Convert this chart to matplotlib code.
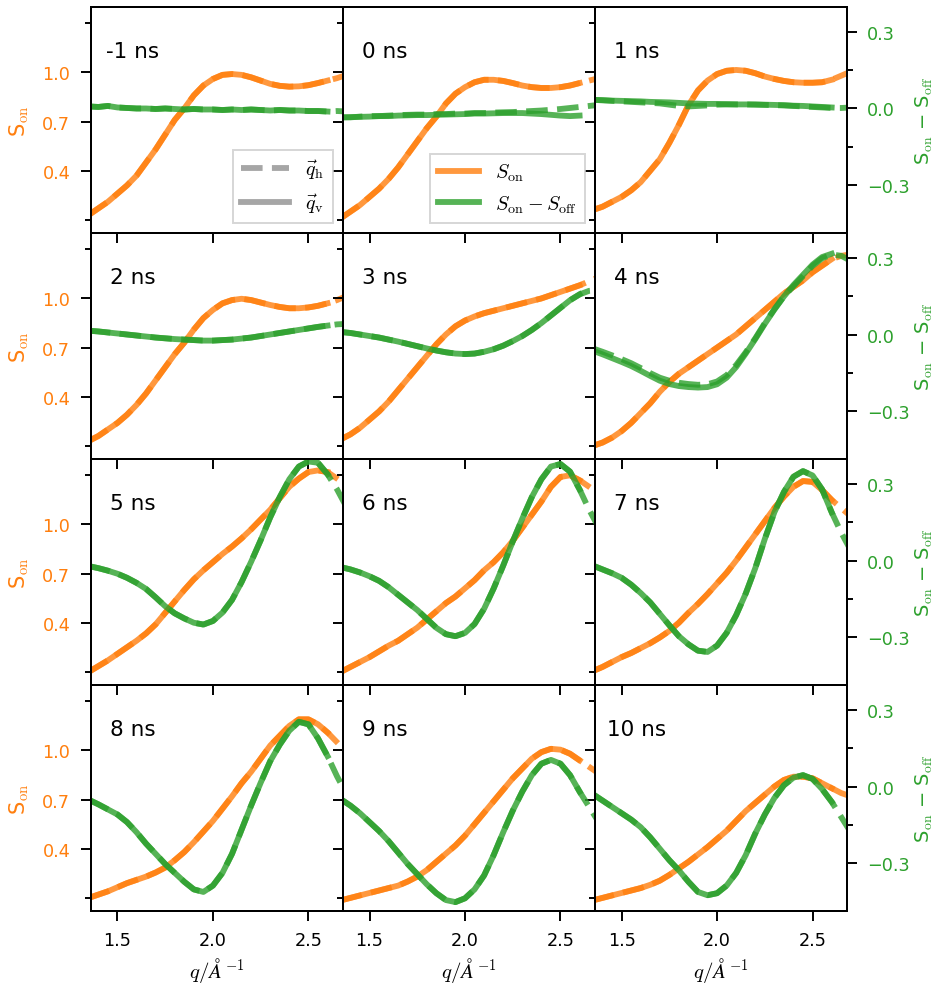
import matplotlib
matplotlib.use('Agg')
import matplotlib.pyplot as plt
from matplotlib.lines import Line2D

plt.rcParams['mathtext.fontset'] = 'cm'
plt.rcParams['font.family'] = ['DejaVu Sans']

# ---------------- data ----------------
q = [1.35, 1.40, 1.45, 1.50, 1.55, 1.60, 1.65, 1.70, 1.75, 1.80, 1.85, 1.90, 1.95, 2.00,
     2.05, 2.10, 2.15, 2.20, 2.25, 2.30, 2.35, 2.40, 2.45, 2.50, 2.55, 2.60, 2.65, 2.70]

times = [-1, 0, 1, 2, 3, 4, 5, 6, 7, 8, 9, 10]

# S_on (dashed, q_h)
s_m1 = [0.13, 0.17, 0.21, 0.26, 0.31, 0.37, 0.45, 0.53, 0.62, 0.71, 0.78, 0.86, 0.92, 0.96,
        0.985, 0.99, 0.985, 0.97, 0.95, 0.93, 0.918, 0.913, 0.915, 0.922, 0.935, 0.95, 0.965, 0.985]
s_0 = [0.11, 0.15, 0.19, 0.24, 0.29, 0.35, 0.42, 0.50, 0.58, 0.66, 0.73, 0.81, 0.87, 0.91,
       0.94, 0.955, 0.955, 0.948, 0.935, 0.92, 0.91, 0.905, 0.905, 0.91, 0.92, 0.935, 0.95, 0.965]
s_1 = [0.16, 0.18, 0.21, 0.24, 0.28, 0.33, 0.40, 0.47, 0.57, 0.68, 0.80, 0.89, 0.95, 0.99,
       1.01, 1.015, 1.01, 0.995, 0.975, 0.96, 0.948, 0.94, 0.937, 0.937, 0.94, 0.955, 0.98, 1.005]
s_2 = [0.13, 0.16, 0.20, 0.24, 0.29, 0.35, 0.42, 0.50, 0.58, 0.66, 0.73, 0.81, 0.88, 0.93,
       0.97, 0.99, 0.998, 0.99, 0.975, 0.96, 0.948, 0.94, 0.94, 0.945, 0.955, 0.97, 0.99, 1.015]
s_3 = [0.14, 0.17, 0.21, 0.26, 0.31, 0.37, 0.44, 0.51, 0.58, 0.65, 0.72, 0.78, 0.83, 0.865,
       0.89, 0.91, 0.925, 0.94, 0.955, 0.97, 0.985, 1.0, 1.02, 1.04, 1.06, 1.08, 1.105, 1.13]
s_4 = [0.10, 0.12, 0.15, 0.19, 0.24, 0.30, 0.36, 0.43, 0.49, 0.54, 0.58, 0.62, 0.66, 0.70,
       0.74, 0.78, 0.83, 0.88, 0.93, 0.98, 1.03, 1.07, 1.11, 1.16, 1.20, 1.24, 1.26, 1.27]
s_5 = [0.10, 0.135, 0.17, 0.21, 0.25, 0.29, 0.335, 0.39, 0.46, 0.53, 0.60, 0.665, 0.72, 0.77,
       0.82, 0.865, 0.915, 0.97, 1.03, 1.09, 1.16, 1.23, 1.28, 1.32, 1.33, 1.32, 1.28, 1.24]
s_6 = [0.10, 0.13, 0.16, 0.19, 0.225, 0.26, 0.29, 0.33, 0.37, 0.42, 0.47, 0.52, 0.56, 0.61,
       0.66, 0.72, 0.77, 0.83, 0.90, 0.98, 1.06, 1.14, 1.23, 1.29, 1.30, 1.27, 1.23, 1.19]
s_7 = [0.105, 0.13, 0.16, 0.19, 0.215, 0.245, 0.275, 0.31, 0.35, 0.40, 0.46, 0.515, 0.575, 0.64,
       0.705, 0.78, 0.86, 0.94, 1.02, 1.10, 1.17, 1.23, 1.265, 1.26, 1.21, 1.15, 1.10, 1.05]
s_8 = [0.10, 0.12, 0.14, 0.165, 0.19, 0.21, 0.23, 0.255, 0.285, 0.33, 0.38, 0.44, 0.505, 0.57,
       0.645, 0.72, 0.80, 0.87, 0.95, 1.03, 1.09, 1.15, 1.19, 1.19, 1.16, 1.11, 1.05, 0.99]
s_9 = [0.085, 0.10, 0.115, 0.13, 0.145, 0.16, 0.175, 0.20, 0.23, 0.27, 0.32, 0.37, 0.42, 0.48,
       0.55, 0.62, 0.69, 0.76, 0.83, 0.89, 0.95, 0.99, 1.01, 1.005, 0.98, 0.94, 0.90, 0.86]
s_10 = [0.085, 0.10, 0.115, 0.13, 0.145, 0.16, 0.18, 0.205, 0.24, 0.28, 0.32, 0.365, 0.41, 0.46,
        0.51, 0.57, 0.63, 0.68, 0.73, 0.78, 0.82, 0.84, 0.84, 0.83, 0.80, 0.77, 0.74, 0.72]

# S_on - S_off (dashed, q_h)
d_m1 = [0.008, 0.006, 0.01, 0.004, 0.002, 0.0, 0.0, -0.002, 0.0, -0.002, -0.004, -0.002, -0.004, -0.004,
        -0.006, -0.004, -0.006, -0.004, -0.006, -0.008, -0.006, -0.008, -0.008, -0.01, -0.01, -0.012, -0.01, -0.012]
d_0 = [-0.035, -0.035, -0.032, -0.03, -0.03, -0.028, -0.026, -0.025, -0.024, -0.024, -0.022, -0.022, -0.02, -0.02,
       -0.018, -0.018, -0.016, -0.015, -0.014, -0.012, -0.01, -0.008, -0.005, -0.002, 0.002, 0.006, 0.01, 0.014]
d_1 = [0.034, 0.032, 0.03, 0.028, 0.026, 0.024, 0.022, 0.02, 0.015, 0.01, 0.008, 0.01, 0.012, 0.015,
       0.016, 0.016, 0.016, 0.015, 0.014, 0.013, 0.012, 0.01, 0.008, 0.006, 0.004, 0.002, 0.002, 0.004]
d_2 = [0.015, 0.012, 0.008, 0.004, 0.0, -0.004, -0.008, -0.012, -0.015, -0.018, -0.02, -0.022, -0.024, -0.024,
       -0.022, -0.02, -0.016, -0.012, -0.006, 0.0, 0.006, 0.012, 0.018, 0.024, 0.03, 0.035, 0.04, 0.042]
d_3 = [0.01, 0.006, 0.0, -0.006, -0.012, -0.02, -0.028, -0.037, -0.046, -0.055, -0.063, -0.07, -0.075, -0.077,
       -0.075, -0.068, -0.058, -0.044, -0.026, -0.006, 0.018, 0.045, 0.075, 0.105, 0.135, 0.158, 0.172, 0.175]
d_4 = [-0.055, -0.068, -0.082, -0.097, -0.113, -0.132, -0.152, -0.17, -0.182, -0.19, -0.195, -0.198, -0.196, -0.185,
       -0.16, -0.12, -0.07, -0.015, 0.045, 0.1, 0.15, 0.19, 0.23, 0.27, 0.30, 0.315, 0.31, 0.29]
d_5 = [-0.022, -0.03, -0.04, -0.052, -0.068, -0.088, -0.112, -0.145, -0.18, -0.208, -0.228, -0.245, -0.252, -0.238,
       -0.205, -0.155, -0.085, -0.005, 0.08, 0.17, 0.25, 0.32, 0.37, 0.39, 0.385, 0.34, 0.28, 0.21]
d_6 = [-0.026, -0.035, -0.047, -0.062, -0.08, -0.105, -0.135, -0.165, -0.195, -0.23, -0.265, -0.29, -0.298, -0.285,
       -0.25, -0.19, -0.11, -0.02, 0.075, 0.165, 0.25, 0.32, 0.37, 0.38, 0.35, 0.28, 0.20, 0.13]
d_7 = [-0.02, -0.035, -0.05, -0.068, -0.095, -0.128, -0.165, -0.21, -0.255, -0.298, -0.33, -0.355, -0.36, -0.335,
       -0.285, -0.215, -0.13, -0.03, 0.085, 0.19, 0.27, 0.33, 0.352, 0.335, 0.28, 0.19, 0.11, 0.04]
d_8 = [-0.052, -0.07, -0.09, -0.11, -0.14, -0.18, -0.225, -0.265, -0.305, -0.34, -0.375, -0.405, -0.415, -0.39,
       -0.34, -0.265, -0.17, -0.075, 0.015, 0.10, 0.165, 0.22, 0.255, 0.245, 0.19, 0.12, 0.04, -0.03]
d_9 = [-0.05, -0.075, -0.105, -0.14, -0.175, -0.215, -0.26, -0.305, -0.345, -0.385, -0.42, -0.447, -0.455, -0.44,
       -0.405, -0.35, -0.27, -0.18, -0.095, -0.02, 0.045, 0.09, 0.105, 0.09, 0.045, -0.02, -0.08, -0.14]
d_10 = [-0.03, -0.055, -0.08, -0.105, -0.13, -0.16, -0.20, -0.245, -0.29, -0.33, -0.375, -0.415, -0.428, -0.42,
        -0.39, -0.34, -0.27, -0.185, -0.11, -0.045, 0.005, 0.035, 0.045, 0.03, -0.01, -0.06, -0.12, -0.18]

# solid (q_v) curves that visibly differ from the dashed ones
d_0_v = [-0.035, -0.034, -0.033, -0.032, -0.03, -0.03, -0.028, -0.027, -0.026, -0.026, -0.025, -0.024, -0.023,
         -0.022, -0.02, -0.02, -0.019, -0.018, -0.018, -0.018, -0.02, -0.022, -0.025, -0.028, -0.03, -0.028]
d_1_v = [0.034, 0.033, 0.031, 0.03, 0.029, 0.028, 0.026, 0.025, 0.024, 0.022, 0.02, 0.019, 0.018, 0.018,
         0.017, 0.016, 0.016, 0.016, 0.015, 0.014, 0.013, 0.011, 0.01, 0.008, 0.006, 0.004]
d_4_v = [-0.064, -0.078, -0.093, -0.108, -0.124, -0.143, -0.163, -0.182, -0.195, -0.203, -0.207, -0.209, -0.207,
         -0.196, -0.17, -0.128, -0.075, -0.018, 0.042, 0.098, 0.15, 0.195, 0.235, 0.275, 0.305, 0.318]

S_H = [s_m1, s_0, s_1, s_2, s_3, s_4, s_5, s_6, s_7, s_8, s_9, s_10]
D_H = [d_m1, d_0, d_1, d_2, d_3, d_4, d_5, d_6, d_7, d_8, d_9, d_10]
S_V = list(S_H)
D_V = [d_m1, d_0_v, d_1_v, d_2, d_3, d_4_v, d_5, d_6, d_7, d_8, d_9, d_10]

# ---------------- figure ----------------
C_ON = '#ff7f0e'
C_DIFF = '#2ca02c'
LW = 4.2
AL = 0.8
NV = 26  # solid curves end at q = 2.60

fig, axes = plt.subplots(4, 3, figsize=(9.4, 9.87), dpi=100, sharex=True, sharey=True)
fig.subplots_adjust(left=0.0965, right=0.901, top=0.992, bottom=0.076, wspace=0, hspace=0)

twins = []
for i, ax in enumerate(axes.flat):
    r, c = divmod(i, 3)
    ax2 = ax.twinx()
    twins.append(ax2)
    for a in (ax, ax2):
        a.patch.set_visible(False)
        for sp in a.spines.values():
            sp.set_linewidth(1.4)

    ax.plot(q, S_H[i], color=C_ON, ls='--', lw=LW, alpha=AL)
    ax.plot(q[:NV], S_V[i][:NV], color=C_ON, ls='-', lw=LW, alpha=AL)
    ax2.plot(q, D_H[i], color=C_DIFF, ls='--', lw=LW, alpha=AL)
    ax2.plot(q[:NV], D_V[i][:NV], color=C_DIFF, ls='-', lw=LW, alpha=AL)

    ax.set_xlim(1.36, 2.68)
    ax.set_ylim(0.02, 1.40)
    ax2.set_ylim(-0.49, 0.40)

    ax.set_xticks([1.5, 2.0, 2.5])
    ax.set_yticks([0.4, 0.7, 1.0])
    ax.set_yticks([0.1, 1.3], minor=True)
    ax.tick_params(which='major', length=7.2, width=1.4, pad=7.5, labelsize=12.7)
    ax.tick_params(which='minor', length=4.3, width=1.4)
    ax.tick_params(axis='y', labelcolor=C_ON)

    ax2.set_yticks([-0.3, 0.0, 0.3])
    ax2.set_yticks([-0.15, 0.15], minor=True)
    ax2.tick_params(which='major', length=7.2, width=1.4, pad=7.5, labelsize=12.7, labelcolor=C_DIFF)
    ax2.tick_params(which='minor', length=4.3, width=1.4)
    if c < 2:
        ax2.tick_params(axis='y', which='both', right=False, labelright=False)
    else:
        ax2.set_ylabel('S$_\\mathrm{on}$ \u2212 S$_\\mathrm{off}$', color=C_DIFF, fontsize=14, labelpad=3)
    if c == 0:
        ax.set_ylabel('S$_\\mathrm{on}$', color=C_ON, fontsize=15, labelpad=8)
    if r == 3:
        ax.set_xlabel(r'$q/\AA^{-1}$', fontsize=15)

    ax2.text(0.166, 0.78, f'{times[i]} ns', transform=ax.transAxes, ha='center',
             va='baseline', fontsize=15.5)

h1 = [Line2D([], [], color='gray', alpha=0.7, lw=LW, ls='--'),
      Line2D([], [], color='gray', alpha=0.7, lw=LW, ls='-')]
leg1 = twins[0].legend(h1, [r'$\vec{q}_\mathrm{h}$', r'$\vec{q}_\mathrm{v}$'],
                       loc='lower right', fontsize=14.5, fancybox=False, handlelength=2.4)
leg1.get_frame().set_linewidth(1.4)

h2 = [Line2D([], [], color=C_ON, alpha=AL, lw=LW),
      Line2D([], [], color=C_DIFF, alpha=AL, lw=LW)]
leg2 = twins[1].legend(h2, [r'$S_\mathrm{on}$', r'$S_\mathrm{on} - S_\mathrm{off}$'],
                       loc='lower right', fontsize=14.5, fancybox=False)
leg2.get_frame().set_linewidth(1.4)

fig.savefig('out.png', dpi=100, facecolor='white')
